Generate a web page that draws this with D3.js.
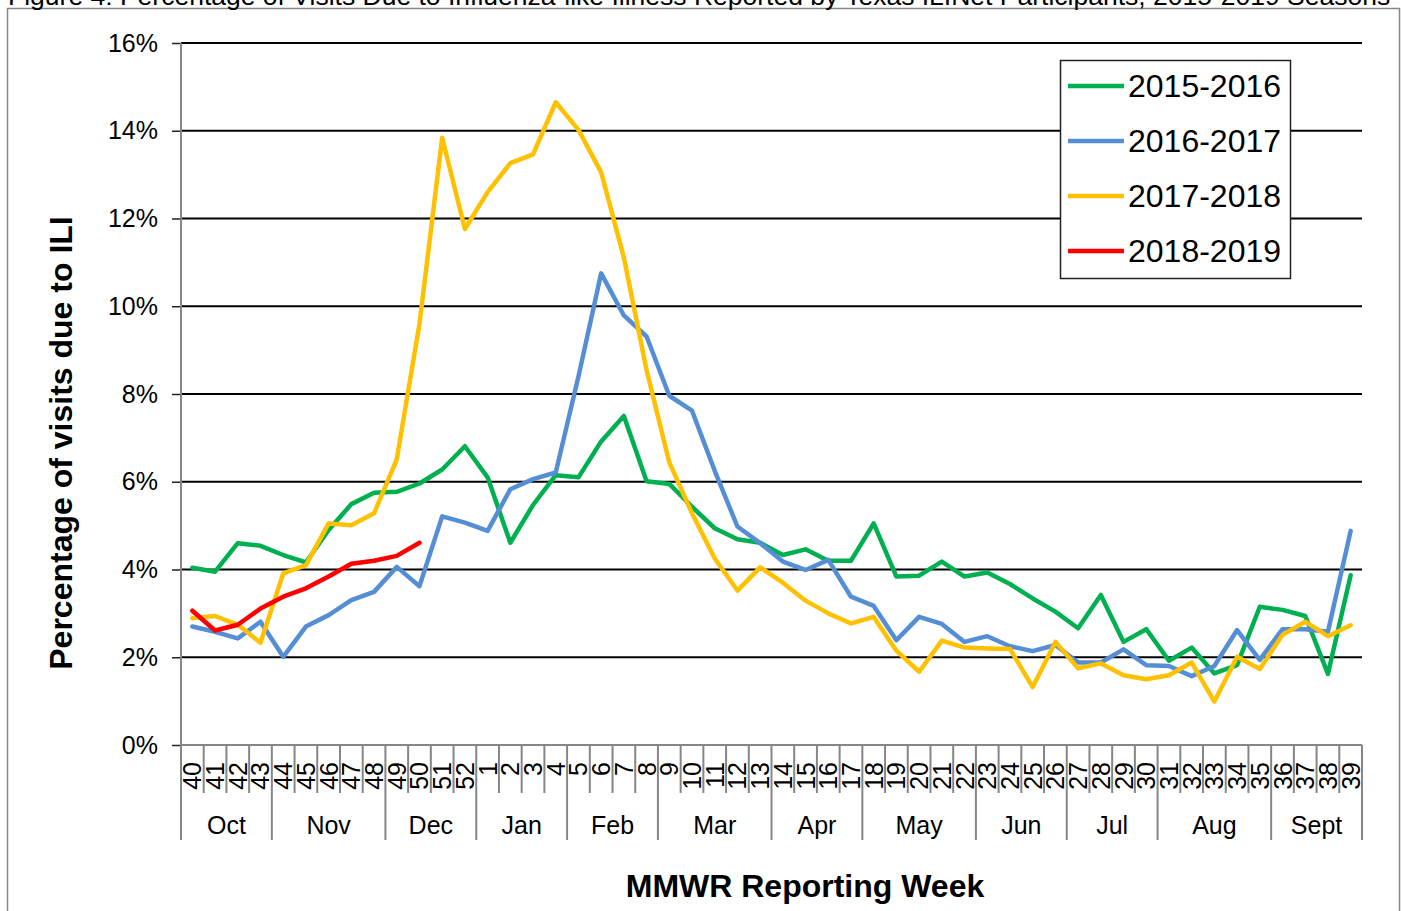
<!DOCTYPE html>
<html>
<head>
<meta charset="utf-8">
<script src="https://cdn.jsdelivr.net/npm/d3@7/dist/d3.min.js"></script>
<style>
  body { margin: 0; background: #fff; }
  text { font-family: Arial, "Liberation Sans", sans-serif; fill: #000; }
</style>
</head>
<body>
<div id="chart"></div>
<script>
var width = 1403;
var height = 911;
var plotLeft = 181, plotRight = 1362, plotTop = 43, plotBottom = 745;
var gridColor = "#000";
var axisColor = "#868686";

// data
var weeks = ["40","41","42","43","44","45","46","47","48","49","50","51","52",
             "1","2","3","4","5","6","7","8","9","10","11","12","13","14","15","16","17","18","19","20",
             "21","22","23","24","25","26","27","28","29","30","31","32","33","34","35","36","37","38","39"];
var monthNames = ["Oct","Nov","Dec","Jan","Feb","Mar","Apr","May","Jun","Jul","Aug","Sept"];
var monthWeeks = [4, 5, 4, 4, 4, 5, 4, 5, 4, 4, 5, 4];
var seasons = ["2015-2016", "2016-2017", "2017-2018", "2018-2019"];
var colors = ["#00B050", "#558ED5", "#FFC000", "#FF0000"];
var yTicks = [0, 2, 4, 6, 8, 10, 12, 14, 16];

var ili1516 = [4.04, 3.95, 4.60, 4.54, 4.33, 4.16, 4.90, 5.49, 5.75, 5.77, 5.96, 6.28, 6.81,
               6.10, 4.61, 5.47, 6.15, 6.10, 6.92, 7.50, 6.01, 5.95, 5.43, 4.94, 4.69, 4.61, 4.33,
               4.46, 4.20, 4.20, 5.05, 3.84, 3.86, 4.18, 3.84, 3.93, 3.67, 3.34, 3.04, 2.66, 3.42,
               2.35, 2.64, 1.92, 2.22, 1.63, 1.82, 3.15, 3.08, 2.94, 1.62, 3.87];
var ili1617 = [2.70, 2.58, 2.43, 2.81, 2.01, 2.70, 2.96, 3.30, 3.49, 4.06, 3.62, 5.21, 5.07,
               4.88, 5.83, 6.06, 6.21, 8.40, 10.75, 9.79, 9.31, 7.96, 7.62, 6.25, 4.98, 4.60, 4.18,
               3.99, 4.22, 3.38, 3.17, 2.39, 2.92, 2.76, 2.35, 2.48, 2.25, 2.14, 2.28, 1.88, 1.88,
               2.18, 1.82, 1.80, 1.57, 1.80, 2.62, 1.94, 2.64, 2.64, 2.58, 4.88];
var ili1718 = [2.89, 2.94, 2.74, 2.33, 3.91, 4.10, 5.05, 5.01, 5.28, 6.51, 9.60, 13.84, 11.76,
               12.60, 13.26, 13.46, 14.65, 14.02, 13.05, 11.11, 8.54, 6.44, 5.28, 4.25, 3.52, 4.05, 3.70,
               3.29, 3.00, 2.77, 2.92, 2.15, 1.67, 2.38, 2.22, 2.20, 2.19, 1.32, 2.35, 1.75, 1.86,
               1.59, 1.50, 1.59, 1.88, 0.99, 2.01, 1.73, 2.51, 2.81, 2.48, 2.73];
var ili1819 = [3.06, 2.61, 2.74, 3.11, 3.38, 3.57, 3.84, 4.13, 4.20, 4.31, 4.61];

var seriesValues = [ili1516, ili1617, ili1718, ili1819];

var svg = d3.select("#chart").append("svg")
      .attr("width", width)
      .attr("height", height);

// chart border
svg.append("rect")
      .attr("x", 7.5)
      .attr("y", 8.5)
      .attr("width", 1392)
      .attr("height", 920)
      .style("fill", "#fff")
      .style("stroke", axisColor)
      .style("stroke-width", 1.5);

// title (cut off at top in the original)
svg.append("text")
      .attr("x", 8)
      .attr("y", 5)
      .style("font-size", "26.5px")
      .text("Figure 4: Percentage of Visits Due to Influenza-like Illness Reported by Texas ILINet Participants, 2015-2019 Seasons");

var xScale = d3.scaleBand()
      .domain(weeks)
      .range([plotLeft, plotRight]);

var yScale = d3.scaleLinear()
      .domain([0, 16])
      .range([plotBottom, plotTop]);

// gridlines
svg.append("g")
      .selectAll("line")
      .data(yTicks.filter(d => d > 0))
      .enter()
      .append("line")
      .attr("x1", plotLeft)
      .attr("x2", plotRight)
      .attr("y1", d => yScale(d))
      .attr("y2", d => yScale(d))
      .style("stroke", gridColor)
      .style("stroke-width", 2);

// y axis
var yAxis = d3.axisLeft(yScale)
      .tickValues(yTicks)
      .tickSize(9)
      .tickPadding(14)
      .tickFormat(d => d + "%");
var yAxisGroup = svg.append("g")
      .attr("transform", "translate(" + plotLeft + ",0)")
      .call(yAxis);
yAxisGroup.select(".domain").remove();
yAxisGroup.selectAll(".tick line").style("stroke", "#222").style("stroke-width", 1.5);
yAxisGroup.selectAll("text")
      .style("font-size", "25px")
      .style("font-family", "Arial, 'Liberation Sans', sans-serif");

// axis lines
svg.append("line")
      .attr("x1", plotLeft).attr("x2", plotLeft)
      .attr("y1", plotTop).attr("y2", plotBottom)
      .style("stroke", axisColor).style("stroke-width", 2);
svg.append("line")
      .attr("x1", plotLeft).attr("x2", plotRight)
      .attr("y1", plotBottom).attr("y2", plotBottom)
      .style("stroke", axisColor).style("stroke-width", 2);

// week boundary ticks and month separators
var monthStarts = [];
var acc = 0;
monthWeeks.forEach(function(n) { monthStarts.push(acc); acc += n; });

var boundaries = weeks.map((w, i) => i).concat([weeks.length]);
svg.append("g")
      .selectAll("line")
      .data(boundaries)
      .enter()
      .append("line")
      .attr("x1", i => i < weeks.length ? xScale(weeks[i]) : plotRight)
      .attr("x2", i => i < weeks.length ? xScale(weeks[i]) : plotRight)
      .attr("y1", plotBottom)
      .attr("y2", i => (monthStarts.indexOf(i) >= 0 || i === weeks.length) ? 840 : 793)
      .style("stroke", axisColor)
      .style("stroke-width", 2);

// week labels
var xAxis = d3.axisBottom(xScale)
      .tickSize(0)
      .tickPadding(0);
var xAxisGroup = svg.append("g")
      .attr("transform", "translate(0," + plotBottom + ")")
      .call(xAxis);
xAxisGroup.select(".domain").remove();
xAxisGroup.selectAll("text")
      .attr("y", 0)
      .attr("dy", null)
      .attr("transform", "translate(9,17) rotate(-90)")
      .style("text-anchor", "end")
      .style("font-size", "25px")
      .style("font-family", "Arial, 'Liberation Sans', sans-serif");

// month labels
svg.append("g")
      .selectAll("text")
      .data(monthNames)
      .enter()
      .append("text")
      .attr("x", (d, i) => {
            var a = xScale(weeks[monthStarts[i]]);
            var b = a + monthWeeks[i] * xScale.bandwidth();
            return (a + b) / 2;
      })
      .attr("y", 834)
      .style("text-anchor", "middle")
      .style("font-size", "25px")
      .text(d => d);

// axis titles
svg.append("text")
      .attr("x", 805)
      .attr("y", 897)
      .style("text-anchor", "middle")
      .style("font-size", "32px")
      .style("font-weight", "bold")
      .text("MMWR Reporting Week");

svg.append("text")
      .attr("transform", "rotate(-90)")
      .attr("x", -443)
      .attr("y", 72)
      .style("text-anchor", "middle")
      .style("font-size", "32px")
      .style("font-weight", "bold")
      .text("Percentage of visits due to ILI");

// lines
var line = d3.line()
      .x((d, i) => xScale(weeks[i]) + xScale.bandwidth() / 2)
      .y(d => yScale(d));

svg.append("g")
      .selectAll("path")
      .data(seriesValues)
      .enter()
      .append("path")
      .attr("d", d => line(d))
      .style("fill", "none")
      .style("stroke", (d, i) => colors[i])
      .style("stroke-width", 4.5)
      .style("stroke-linejoin", "round")
      .style("stroke-linecap", "round");

// legend
var legend = svg.append("g");
legend.append("rect")
      .attr("x", 1060.5)
      .attr("y", 60.5)
      .attr("width", 230)
      .attr("height", 218)
      .style("fill", "#fff")
      .style("stroke", "#222")
      .style("stroke-width", 1.5);
var items = legend.selectAll("g.item")
      .data(seasons)
      .enter()
      .append("g")
      .attr("class", "item")
      .attr("transform", (d, i) => "translate(0," + (86 + i * 55) + ")");
items.append("line")
      .attr("x1", 1068)
      .attr("x2", 1124)
      .style("stroke", (d, i) => colors[i])
      .style("stroke-width", 4.5);
items.append("text")
      .attr("x", 1128)
      .attr("y", 11)
      .style("font-size", "32px")
      .text(d => d);
</script>
</body>
</html>
